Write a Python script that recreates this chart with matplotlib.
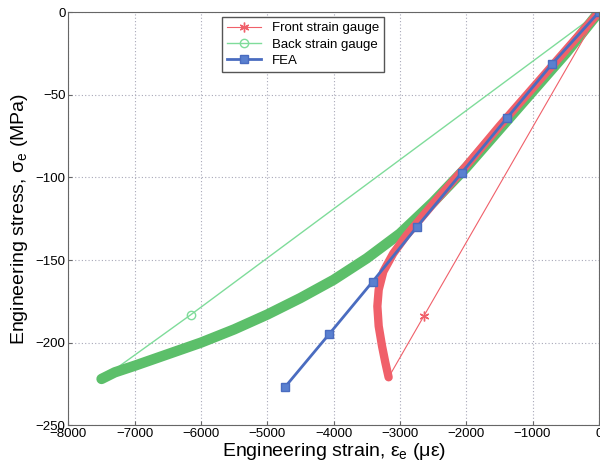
import numpy as np
import matplotlib.pyplot as plt
from matplotlib.lines import Line2D

plt.rcParams['font.family'] = ['Liberation Sans', 'DejaVu Sans']
plt.rcParams['mathtext.fontset'] = 'custom'
plt.rcParams['mathtext.rm'] = 'Liberation Sans'
plt.rcParams['mathtext.it'] = 'Liberation Sans:italic'

# front strain gauge (red): loading curve, then unloading back to zero
front_x = [0, -500, -1000, -1500, -2000, -2500, -2900, -3100, -3250, -3320, -3340, -3320, -3270, -3220, -3170]
front_y = [0, -23, -46, -69, -93, -116, -135, -146, -157, -168, -178, -190, -202, -212, -221]
front_unload_x = [-3170, -2640, 0]
front_unload_y = [-221, -184, 0]

# back strain gauge (green)
back_x = [0, -500, -1000, -1500, -2000, -2500, -3000, -3500, -4000, -4500, -5000, -5500, -6000, -6500, -7000, -7300, -7500]
back_y = [0, -25, -48, -71, -94, -115, -134, -149, -162, -173, -183, -192, -200, -207, -214, -218, -222]
back_unload_x = [-7500, -6150, 0]
back_unload_y = [-222, -183, 0]

# FEA (blue)
fea_x = [0, -700, -1385, -2065, -2745, -3410, -4070, -4735]
fea_y = [0, -31, -64, -97, -130, -163, -195, -227]

red = '#f0606a'
green = '#5cbf6a'
green_thin = '#7fdc9a'
blue = '#4a6cc0'
asterisk = (6, 2, 0)

fig = plt.figure(figsize=(6, 4.74), dpi=100)
ax = fig.add_axes([0.114, 0.103, 0.884, 0.871])

ax.plot(back_unload_x, back_unload_y, color=green_thin, lw=1,
        marker='o', markevery=[1], ms=6, mfc='none', mec=green_thin)
ax.plot(back_x, back_y, color=green, lw=7.5, solid_capstyle='round', solid_joinstyle='round')
ax.plot(front_unload_x, front_unload_y, color=red, lw=0.8,
        marker=asterisk, markevery=[1], ms=7, mec=red)
ax.plot(front_x, front_y, color=red, lw=6, solid_capstyle='round', solid_joinstyle='round')
ax.plot(fea_x, fea_y, color=blue, lw=2, marker='s', ms=6, mfc='#5a80d0', mec=blue)

ax.set_xlim(-8000, 0)
ax.set_ylim(-250, 0)
ax.set_xticks(np.arange(-8000, 1, 1000))
ax.set_yticks(np.arange(-250, 1, 50))
ax.tick_params(labelsize=9.5, direction='in', length=3, color='#666666', pad=2)
ax.grid(True, linestyle=(0, (1, 2)), color='#a8a8b8', lw=0.8)
for s in ax.spines.values():
    s.set_color('#666666')

ax.set_xlabel(r'Engineering strain, $\mathregular{\varepsilon_e}$ ($\mathregular{\mu\varepsilon}$)', fontsize=14, labelpad=1)
ax.set_ylabel(r'Engineering stress, $\mathregular{\sigma_e}$ (MPa)', fontsize=14, labelpad=4)

handles = [
    Line2D([], [], color=red, lw=0.8, marker=asterisk, ms=7, mec=red),
    Line2D([], [], color=green_thin, lw=1, marker='o', ms=6, mfc='none', mec=green_thin),
    Line2D([], [], color=blue, lw=2, marker='s', ms=6, mfc='#5a80d0', mec=blue),
]
ax.legend(handles, ['Front strain gauge', 'Back strain gauge', 'FEA'],
          loc='upper left', bbox_to_anchor=(0.289, 0.989), fontsize=9.5,
          fancybox=False, edgecolor='#555555', framealpha=1,
          handlelength=2.6, borderpad=0.4, labelspacing=0.3, borderaxespad=0)

fig.savefig('out.png', dpi=100)
